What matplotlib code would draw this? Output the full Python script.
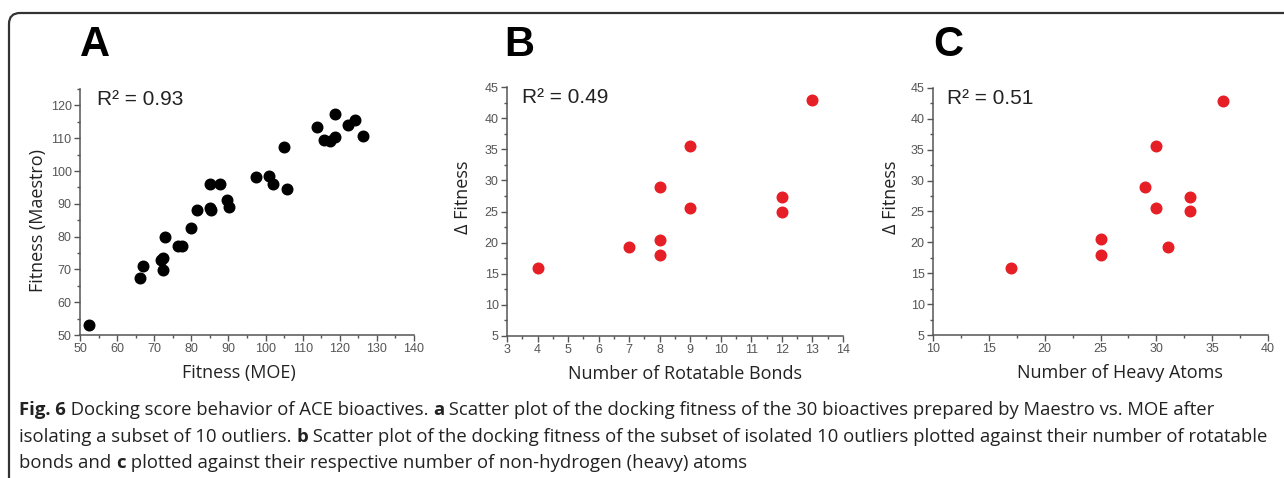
import matplotlib
matplotlib.use("Agg")
import matplotlib.pyplot as plt
from matplotlib.patches import FancyBboxPatch
from matplotlib.ticker import MultipleLocator
from matplotlib.transforms import IdentityTransform

# docking fitness, MOE vs Maestro (30 bioactives)
moe_fit = [52.5, 66.2, 67.0, 71.9, 72.4, 72.5, 72.8, 76.3, 77.6, 79.9,
           81.6, 85.1, 84.9, 85.3, 87.8, 89.6, 90.2, 97.5, 100.9, 101.9,
           105.8, 104.9, 113.8, 115.7, 117.3, 118.6, 118.6, 122.1, 124.0, 126.2]
maestro_fit = [52.9, 67.4, 71.0, 73.0, 73.6, 69.7, 80.0, 77.2, 77.2, 82.6,
               88.0, 96.0, 88.6, 88.0, 95.9, 91.3, 89.0, 98.3, 98.4, 96.1,
               94.5, 107.2, 113.3, 109.6, 109.0, 110.5, 117.4, 114.0, 115.6, 110.8]

# the 10 outliers
rot_bonds = [4, 7, 8, 8, 8, 9, 9, 12, 12, 13]
heavy_atoms = [17, 31, 25, 25, 29, 30, 30, 33, 33, 36]
delta_fit = [15.9, 19.3, 20.5, 18.0, 29.0, 35.6, 25.5, 27.4, 25.0, 42.9]

r2_values = ["0.93", "0.49", "0.51"]
panel_letters = ["A", "B", "C"]

caption = [
    [("Fig. 6", True), (" Docking score behavior of ACE bioactives. ", False), ("a", True),
     (" Scatter plot of the docking fitness of the 30 bioactives prepared by Maestro vs. MOE after", False)],
    [("isolating a subset of 10 outliers. ", False), ("b", True),
     (" Scatter plot of the docking fitness of the subset of isolated 10 outliers plotted against their number of rotatable", False)],
    [("bonds and ", False), ("c", True),
     (" plotted against their respective number of non-hydrogen (heavy) atoms", False)],
]

W, H = 1284, 478
fig = plt.figure(figsize=(W / 100, H / 100), dpi=100)

# rounded frame, open on the right and at the bottom
frame = FancyBboxPatch((9, -30), 1320, H - 13 + 30, boxstyle="round,pad=0,rounding_size=11",
                       transform=IdentityTransform(), fill=False, edgecolor="#333333", linewidth=1.6)
fig.patches.append(frame)

tick_font = dict(family="Liberation Sans", size=9, color="#555555")
label_font = dict(family="Open Sans", size=13, color="#222222")


def px_axes(left, top, right, bottom):
    return fig.add_axes([left / W, 1 - bottom / H, (right - left) / W, (bottom - top) / H])


def style(ax, xmaj, xmin, ymaj, ymin):
    for side in ["top", "right"]:
        ax.spines[side].set_visible(False)
    for side in ["left", "bottom"]:
        ax.spines[side].set_color("#555555")
        ax.spines[side].set_linewidth(1.1)
    ax.xaxis.set_major_locator(MultipleLocator(xmaj))
    ax.xaxis.set_minor_locator(MultipleLocator(xmin))
    ax.yaxis.set_major_locator(MultipleLocator(ymaj))
    ax.yaxis.set_minor_locator(MultipleLocator(ymin))
    ax.tick_params(which="major", length=4, width=1, color="#555555", pad=2)
    ax.tick_params(which="minor", length=2, width=1, color="#555555")
    for lab in ax.get_xticklabels() + ax.get_yticklabels():
        lab.set_fontfamily(tick_font["family"])
        lab.set_fontsize(tick_font["size"])
        lab.set_color(tick_font["color"])


# A
axA = px_axes(80, 89, 414, 335)
axA.scatter(moe_fit, maestro_fit, s=58, color="black", zorder=3, clip_on=False)
axA.set_xlim(50, 140)
axA.set_ylim(50, 125)
style(axA, 10, 5, 10, 5)
axA.set_xlabel("Fitness (MOE)", **label_font)
axA.set_ylabel("Fitness (Maestro)", **label_font)
axA.xaxis.set_label_coords(0.476, -0.118)
axA.yaxis.set_label_coords(-0.1, 0.467)

# B
axB = px_axes(507, 87, 843, 336)
axB.scatter(rot_bonds, delta_fit, s=58, color="#e61e25", zorder=3, clip_on=False)
axB.set_xlim(3, 14)
axB.set_ylim(5, 45)
style(axB, 1, 0.5, 5, 2.5)
axB.set_xlabel("Number of Rotatable Bonds", **label_font)
axB.set_ylabel("Δ Fitness", **label_font)
axB.xaxis.set_label_coords(0.53, -0.118)
axB.yaxis.set_label_coords(-0.104, 0.558)

# C
axC = px_axes(933, 88, 1268, 335)
axC.scatter(heavy_atoms, delta_fit, s=58, color="#e61e25", zorder=3, clip_on=False)
axC.set_xlim(10, 40)
axC.set_ylim(5, 45)
style(axC, 5, 2.5, 5, 2.5)
axC.set_xlabel("Number of Heavy Atoms", **label_font)
axC.set_ylabel("Δ Fitness", **label_font)
axC.xaxis.set_label_coords(0.558, -0.118)
axC.yaxis.set_label_coords(-0.099, 0.556)

# R² annotations and panel letters
r2_x = [0.05, 0.045, 0.042]
letter_x = [95, 519, 948]
for ax, r2, rx, letter, lx in zip([axA, axB, axC], r2_values, r2_x, panel_letters, letter_x):
    ax.text(rx, 0.958, "R² = " + r2, transform=ax.transAxes, ha="left", va="center",
            family="Liberation Sans", fontsize=15, color="#222222")
    fig.text(lx / W, 1 - 45 / H, letter, ha="center", va="center",
             family="Liberation Sans", fontweight="bold", fontsize=30, color="black")

# caption, drawn piece by piece so bold runs sit inline
renderer = fig.canvas.get_renderer()
line_y = [410, 437, 463]
for parts, y in zip(caption, line_y):
    x = 19
    for text, bold in parts:
        t = fig.text(x / W, 1 - y / H, text, ha="left", va="center", family="Open Sans",
                     fontweight="bold" if bold else "normal", fontsize=13.3, color="#222222")
        x += t.get_window_extent(renderer).width

fig.savefig("out.png", dpi=100)
